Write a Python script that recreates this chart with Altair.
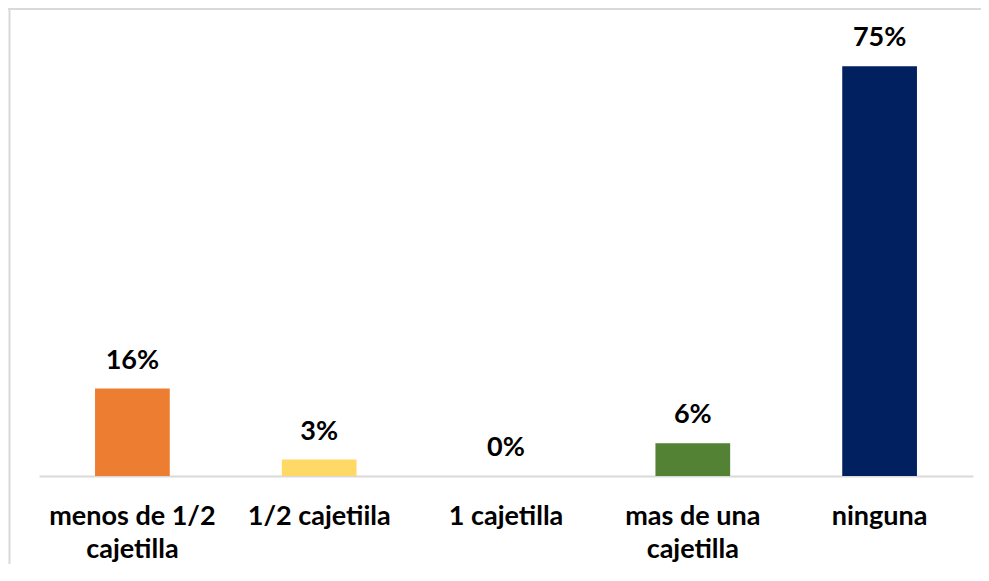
import altair as alt
import pandas as pd

categories = ["menos de 1/2|cajetilla", "1/2 cajetiila", "1 cajetilla", "mas de una|cajetilla", "ninguna"]
values = [16, 3, 0, 6, 75]
colors = ["#ED7D31", "#FFD966", "#A5A5A5", "#548235", "#002060"]

df = pd.DataFrame({"cat": categories, "value": values, "color": colors})

FONT = "Lato"
FS = 27

x = alt.X("cat:N", sort=categories, title=None,
          scale=alt.Scale(paddingInner=0.6, paddingOuter=0.3),
          axis=alt.Axis(labelAngle=0, labelExpr="split(datum.label, '|')",
                        labelFont=FONT, labelFontSize=FS, labelFontWeight="bold",
                        labelColor="#000000", labelPadding=27, labelLineHeight=33,
                        labelBaseline="top",
                        ticks=False, domainColor="#D9D9D9", domainWidth=2,
                        labelLimit=300))
y = alt.Y("value:Q", scale=alt.Scale(domain=[0, 80], nice=False), axis=None)

base = alt.Chart(df)
bars = base.mark_bar().encode(x=x, y=y, color=alt.Color("color:N", scale=None))
labels = base.transform_calculate(lbl="datum.value + '%'").mark_text(
    font=FONT, fontSize=FS, fontWeight="bold", color="#000000",
    baseline="alphabetic", dy=-20
).encode(x=x, y=y, text="lbl:N")

frame_df = pd.DataFrame({"a": [0]})
left_border = alt.Chart(frame_df).mark_rule(color="#D9D9D9", strokeWidth=2).encode(
    x=alt.value(-29.5), y=alt.value(-31), y2=alt.value(600))
top_border = alt.Chart(frame_df).mark_rule(color="#D9D9D9", strokeWidth=2).encode(
    x=alt.value(-31), x2=alt.value(942), y=alt.value(-30))

chart = alt.layer(bars, labels, left_border, top_border).properties(
    width=934, height=437,
    background="#FFFFFF",
    autosize=alt.AutoSizeParams(type="none"),
    padding={"left": 31, "top": 31, "right": 8, "bottom": 88},
).configure_view(stroke=None, strokeWidth=0)

chart.save("out.html", embed_options={"renderer": "svg", "actions": False})
